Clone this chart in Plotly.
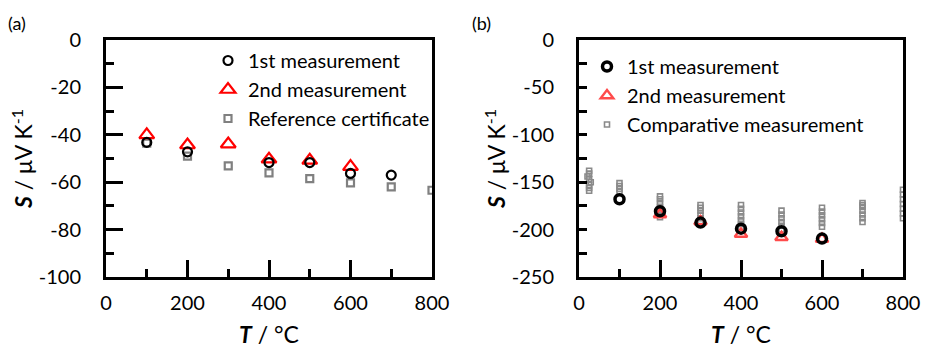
import plotly.graph_objects as go

# ---- data ----
# (a) Seebeck coefficient, S / uV K^-1 vs T / degC
a_T1 = [100, 200, 400, 500, 600, 700]
a_S1 = [-43.2, -47.2, -51.7, -51.7, -56.3, -57.0]

a_T2 = [100, 200, 300, 400, 500, 600]
a_S2 = [-40.0, -44.3, -43.9, -50.3, -50.8, -53.4]

a_Tref = [100, 200, 300, 400, 500, 600, 700, 800]
a_Sref = [-43.5, -49.0, -53.1, -56.1, -58.5, -60.3, -62.0, -63.4]

a_yticks = [0, -20, -40, -60, -80, -100]

# (b)
b_T1 = [100, 200, 300, 400, 500, 600]
b_S1 = [-168, -180.6, -192.6, -199, -201.7, -209.5]

b_T2 = [200, 300, 400, 500, 600]
b_S2 = [-184, -191.5, -204.6, -208, -210]

b_Tcomp = [25, 25, 21, 25, 29, 25, 25, 25,
           100, 100, 100, 100,
           200, 200, 200, 200, 200, 200, 200,
           300, 300, 300, 300, 300, 300,
           400, 400, 400, 400, 400, 400, 400,
           500, 500, 500, 500, 500, 500,
           600, 600, 600, 600, 600, 600,
           700, 700, 700, 700, 700, 700, 700,
           800, 800, 800, 800, 800, 800, 800]
b_Scomp = [-138, -141, -144, -147, -150, -153, -156, -159,
           -151, -154, -157, -160,
           -165, -168, -172, -176, -180, -184, -187,
           -174, -177, -180, -184, -188, -191,
           -174, -178, -182, -186, -190, -194, -198,
           -180, -184, -188, -192, -196, -200,
           -177, -181, -185, -189, -193, -197,
           -172, -174, -176, -180, -184, -188, -192,
           -158, -163, -168, -173, -178, -183, -188]

b_yticks = [0, -50, -100, -150, -200, -250]
x_ticks = [0, 200, 400, 600, 800]

W, H = 932, 362
FONT = "Lato, 'Open Sans', sans-serif"
FS = 20
FS_TITLE = 23

def px_x(p):
    return p / W

def px_y(p):
    return 1 - p / H

fig = go.Figure()

# panel (a)
fig.add_trace(go.Scatter(x=a_Tref, y=a_Sref, mode='markers', name='Reference certificate',
                         legendrank=3, legend='legend', xaxis='x', yaxis='y',
                         marker=dict(symbol='square-open', size=7, color='#808080',
                                     line=dict(width=2.2, color='#808080'))))
fig.add_trace(go.Scatter(x=a_T2, y=a_S2, mode='markers', name='2nd measurement',
                         legendrank=2, legend='legend', xaxis='x', yaxis='y',
                         marker=dict(symbol='triangle-up-open', size=13, color='#ff0000',
                                     line=dict(width=2.2, color='#ff0000'))))
fig.add_trace(go.Scatter(x=a_T1, y=a_S1, mode='markers', name='1st measurement',
                         legendrank=1, legend='legend', xaxis='x', yaxis='y',
                         marker=dict(symbol='circle-open', size=9, color='black',
                                     line=dict(width=2.2, color='black'))))

# panel (b)
fig.add_trace(go.Scatter(x=b_Tcomp, y=b_Scomp, mode='markers', name='Comparative measurement',
                         legendrank=3, legend='legend2', xaxis='x2', yaxis='y2',
                         marker=dict(symbol='square-open', size=5, color='#8a8a8a',
                                     line=dict(width=1.6, color='#8a8a8a'))))
fig.add_trace(go.Scatter(x=b_T2, y=b_S2, mode='markers', name='2nd measurement',
                         legendrank=2, legend='legend2', xaxis='x2', yaxis='y2',
                         marker=dict(symbol='triangle-up-open', size=11, color='#ff4b4b',
                                     line=dict(width=2.4, color='#ff4b4b'))))
fig.add_trace(go.Scatter(x=b_T1, y=b_S1, mode='markers', name='1st measurement',
                         legendrank=1, legend='legend2', xaxis='x2', yaxis='y2',
                         marker=dict(symbol='circle-open', size=9, color='black',
                                     line=dict(width=3.5, color='black'))))

frame = dict(showline=True, mirror=True, linewidth=3, linecolor='black',
             showgrid=False, zeroline=False, ticks='inside', tickwidth=3,
             tickcolor='black', automargin=False,
             tickfont=dict(family=FONT, size=FS, color='black'))

x_title = dict(text='<b><i>T</i></b> / °C', font=dict(family=FONT, size=FS_TITLE, color='black'),
               standoff=14)
y_title = dict(text='<b><i>S</i></b> / μV K<sup>-1</sup>',
               font=dict(family=FONT, size=FS_TITLE, color='black'), standoff=0)

minor_x = dict(dtick=100, ticks='inside', ticklen=8, tickwidth=3, tickcolor='black')
dom_y = [px_y(277), px_y(40)]

fig.update_layout(
    width=W, height=H,
    margin=dict(l=0, r=0, t=0, b=0, autoexpand=False),
    paper_bgcolor='white', plot_bgcolor='white',
    font=dict(family=FONT, size=FS, color='black'),
    xaxis=dict(frame, domain=[px_x(106), px_x(432)], range=[0, 800],
               tickvals=x_ticks, ticktext=[str(v) for v in x_ticks],
               ticklen=17, ticklabelstandoff=6, anchor='y', title=x_title, minor=minor_x),
    yaxis=dict(frame, domain=dom_y, range=[-100, 0],
               tickvals=a_yticks, ticktext=[str(v) for v in a_yticks], ticklen=17,
               ticklabelstandoff=18, anchor='x', title=y_title,
               minor=dict(dtick=10, ticks='inside', ticklen=8, tickwidth=3, tickcolor='black')),
    xaxis2=dict(frame, domain=[px_x(579), px_x(903)], range=[0, 800],
                tickvals=x_ticks, ticktext=[str(v) for v in x_ticks],
                ticklen=17, ticklabelstandoff=6, anchor='y2', title=x_title, minor=minor_x),
    yaxis2=dict(frame, domain=dom_y, range=[-250, 0],
                tickvals=b_yticks, ticktext=[str(v) for v in b_yticks], ticklen=8,
                ticklabelstandoff=18, anchor='x2', title=y_title,
                minor=dict(dtick=25, ticks='inside', ticklen=8, tickwidth=3, tickcolor='black')),
    # the longer ticks that the original shows only at -150 and -200
    yaxis3=dict(overlaying='y2', anchor='x2', range=[-250, 0], tickvals=[-150, -200],
                ticks='inside', ticklen=17, tickwidth=3, tickcolor='black', automargin=False,
                showticklabels=False, showline=False, showgrid=False, zeroline=False),
    legend=dict(x=px_x(208), y=px_y(41), xanchor='left', yanchor='top',
                bgcolor='rgba(0,0,0,0)', tracegroupgap=0,
                font=dict(family=FONT, size=FS, color='black')),
    legend2=dict(x=px_x(587), y=px_y(47), xanchor='left', yanchor='top',
                 bgcolor='rgba(0,0,0,0)', tracegroupgap=0,
                 font=dict(family=FONT, size=FS, color='black')),
    annotations=[
        dict(text='(a)', x=px_x(6), y=px_y(10), xref='paper', yref='paper',
             xanchor='left', yanchor='top', showarrow=False,
             font=dict(family=FONT, size=18, color='black')),
        dict(text='(b)', x=px_x(470), y=px_y(10), xref='paper', yref='paper',
             xanchor='left', yanchor='top', showarrow=False,
             font=dict(family=FONT, size=18, color='black')),
    ],
)

# the page's default 8px body margin would push the fixed-size figure off the window
fig.write_html("out.html", config={'displayModeBar': False},
               post_script="document.body.style.margin='0';")
